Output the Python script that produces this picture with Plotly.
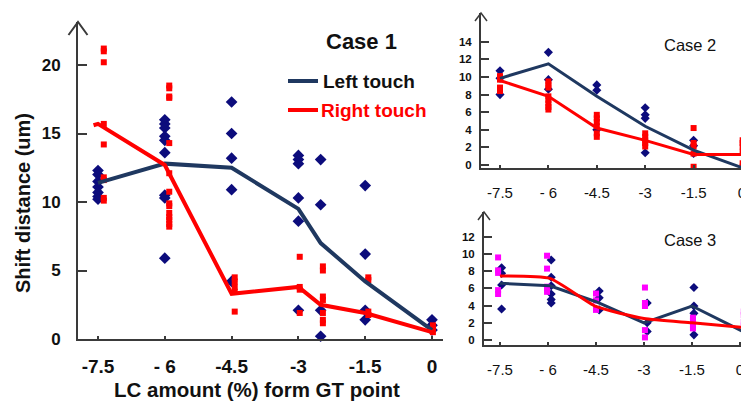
import plotly.graph_objects as go

# ---------------- data ----------------
X_TICKS = [-7.5, -6, -4.5, -3, -1.5, 0]
X_TICKTEXT = ["-7.5", "- 6", "-4.5", "-3", "-1.5", "0"]

# Case 1 – scattered measurements (x group, values)
c1_left_x = [-7.5, -6, -4.5, -3, -2.5, -1.5, 0]
c1_left_vals = [
    [12.3, 12.0, 11.5, 11.1, 10.7, 10.4, 10.2],
    [16.0, 15.7, 15.4, 14.8, 14.5, 13.6, 10.5, 10.3, 5.9],
    [17.3, 15.0, 13.2, 10.9, 4.2],
    [13.4, 13.1, 12.8, 10.3, 8.6, 2.1],
    [13.1, 9.8, 2.1, 0.2],
    [11.2, 6.2, 2.1, 1.4],
    [1.4, 1.0, 0.65],
]
c1_right_x = [-7.37, -5.9, -4.43, -2.97, -2.45, -1.43, 0.02]
c1_right_vals = [
    [21.2, 21.0, 20.2, 15.7, 14.2, 11.8, 11.6, 10.3, 10.1],
    [18.5, 18.3, 17.7, 17.6, 14.3, 12.1, 10.75, 9.9, 9.7, 9.2, 8.9, 8.7, 8.4, 8.2],
    [4.5, 4.2, 3.8, 3.45, 2.0],
    [6.0, 3.8, 3.6, 1.9],
    [5.3, 5.0, 3.1, 2.85, 1.9, 1.4, 1.15],
    [4.5, 4.3, 2.0, 1.75],
    [1.0, 0.8, 0.5],
]
c1_left_line_x = [-7.5, -6, -4.5, -3, -2.5, -1.5, 0]
c1_left_line_y = [11.4, 12.8, 12.5, 9.5, 7.0, 4.2, 0.65]
c1_right_line_x = [-7.6, -7.5, -6, -4.5, -3, -2.5, -1.5, 0]
c1_right_line_y = [15.6, 15.7, 12.7, 3.3, 3.8, 2.5, 1.9, 0.5]

# Case 2
c2_left_x = [-7.5, -6, -4.5, -3, -1.5, 0]
c2_left_vals = [
    [10.7, 9.85, 8.0],
    [12.8, 9.7, 8.6],
    [9.1, 8.5, 4.0],
    [6.5, 5.7, 5.3, 1.4],
    [2.8, 2.2, 1.3],
    [-0.8],
]
c2_right_x = [-7.5, -6, -4.5, -3, -1.5, 0.02]
c2_right_vals = [
    [10.1, 9.7, 8.8, 8.4],
    [9.5, 9.1, 8.8, 7.8, 7.4, 7.0, 6.6, 6.3],
    [5.7, 5.3, 4.9, 4.4, 3.6, 3.2],
    [3.6, 3.2, 2.8, 2.5, 2.1],
    [4.2, 2.5, 2.1, 1.3, -0.2, -0.95],
    [2.8, 2.5, 2.1, 1.5, 0.2, -0.2],
]
c2_left_line_y = [9.85, 11.5, 7.8, 4.4, 1.7, -0.3]
c2_right_line_y = [9.6, 7.8, 4.2, 2.8, 1.2, 1.2]

# Case 3
c3_left_x = [-7.45, -5.9, -4.4, -2.9, -1.44, 0.25]
c3_left_vals = [
    [8.4, 7.75, 6.4, 3.6],
    [9.3, 7.3, 6.3, 5.35, 4.7, 4.3],
    [5.7, 4.9, 3.5],
    [4.3, 2.0, 1.0],
    [6.1, 3.95, 3.1, 0.6],
    [2.7, 1.9, -0.6],
]
c3_right_x = [-7.56, -6.03, -4.5, -2.97, -1.47, 0.12]
c3_right_vals = [
    [9.6, 8.1, 7.8, 5.8, 5.35],
    [9.8, 8.3, 6.2, 6.0, 5.6],
    [5.4, 4.6, 3.5],
    [6.1, 4.3, 3.95, 1.15, 0.3, -1.0],
    [2.6, 2.3, 1.7, 1.35],
    [3.3, 2.9, 2.1, 1.7, -0.6],
]
c3_line_x = [-7.5, -5.94, -4.5, -3, -1.5, 0.25]
c3_left_line_y = [6.6, 6.3, 4.45, 2.0, 3.95, 0.7]
c3_right_line_y = [7.45, 7.17, 3.9, 2.5, 2.0, 1.4]

# ---------------- styling ----------------
PAGE_MARGIN = 8          # default browser body margin
W, H = 749 - PAGE_MARGIN, 401 - PAGE_MARGIN
NAVY_M = "#0c0c7c"
NAVY_L = "#1f3860"
RED = "#ff0000"
MAG = "#ff00ff"
FONT = "Liberation Sans"
AXC = "#3a3a3a"


def px(x):
    return (x - PAGE_MARGIN) / W


def py(y):
    return 1 - (y - PAGE_MARGIN) / H


def flat(xs, vals):
    ox, oy = [], []
    for x, vs in zip(xs, vals):
        for v in vs:
            ox.append(x)
            oy.append(v)
    return ox, oy


fig = go.Figure()


def add_pts(xs, vals, sym, size, color, ax):
    ox, oy = flat(xs, vals)
    fig.add_trace(go.Scatter(x=ox, y=oy, mode="markers", xaxis=ax[0], yaxis=ax[1],
                             marker=dict(symbol=sym, size=size, color=color, line=dict(width=0)),
                             cliponaxis=False, showlegend=False, hoverinfo="skip"))


def add_line(xs, ys, color, width, ax, shape="linear", smoothing=1.0):
    fig.add_trace(go.Scatter(x=xs, y=ys, mode="lines", xaxis=ax[0], yaxis=ax[1],
                             line=dict(color=color, width=width, shape=shape, smoothing=smoothing),
                             cliponaxis=False, showlegend=False, hoverinfo="skip"))


A1, A2, A3 = ("x", "y"), ("x2", "y2"), ("x3", "y3")

# Case 1
add_pts(c1_left_x, c1_left_vals, "diamond", 9, NAVY_M, A1)
add_pts(c1_right_x, c1_right_vals, "square", 6, RED, A1)
add_line(c1_left_line_x, c1_left_line_y, NAVY_L, 4, A1)
add_line(c1_right_line_x, c1_right_line_y, RED, 4, A1)

# Case 2
add_pts(c2_left_x, c2_left_vals, "diamond", 7, NAVY_M, A2)
add_pts(c2_right_x, c2_right_vals, "square", 6, RED, A2)
add_line(X_TICKS, c2_left_line_y, NAVY_L, 3, A2)
add_line(X_TICKS, c2_right_line_y, RED, 3, A2)

# Case 3
add_pts(c3_left_x, c3_left_vals, "diamond", 7, NAVY_M, A3)
add_pts(c3_right_x, c3_right_vals, "square", 6, MAG, A3)
add_line(c3_line_x, c3_left_line_y, NAVY_L, 3, A3)
add_line(c3_line_x, c3_right_line_y, RED, 3, A3, shape="spline", smoothing=0.5)


def xaxis(dom_px, tick_px, zero_px, unit_px, size, weight, standoff):
    left = -7.5 - (tick_px - dom_px[0]) / unit_px
    right = (dom_px[1] - zero_px) / unit_px
    return dict(domain=[px(dom_px[0]), px(dom_px[1])], range=[left, right],
                tickvals=X_TICKS, ticktext=X_TICKTEXT, ticks="inside", ticklen=3,
                tickcolor=AXC, tickwidth=1.5, showline=True, linecolor=AXC, linewidth=2,
                showgrid=False, zeroline=False, fixedrange=True, automargin=False,
                ticklabeloverflow="allow",
                tickfont=dict(family=FONT, size=size, color="#111", weight=weight),
                ticklabelstandoff=standoff)


def yaxis(axis_y, top_y, zero_y, unit_px, tickvals, anchor_x, size, standoff, ticklen):
    bottom = (zero_y - axis_y) / unit_px
    top = (zero_y - top_y) / unit_px
    return dict(domain=[py(axis_y), py(top_y)], range=[bottom, top],
                tickvals=tickvals, ticks="inside", ticklen=ticklen, tickcolor=AXC,
                tickwidth=1.5, showline=True, linecolor=AXC, linewidth=2,
                showgrid=False, zeroline=False, fixedrange=True, anchor=anchor_x,
                automargin=False, ticklabeloverflow="allow",
                tickfont=dict(family=FONT, size=size, color="#111", weight="bold"),
                ticklabelstandoff=standoff)


layout = dict(
    width=W, height=H, margin=dict(l=0, r=0, t=0, b=0, pad=0, autoexpand=False),
    paper_bgcolor="white", plot_bgcolor="rgba(0,0,0,0)",
    xaxis=dict(**xaxis((78, 443), 98, 432, 44.53, 19, "bold", 9), anchor="y"),
    yaxis=yaxis(339, 22, 339, 13.7, [0, 5, 10, 15, 20], "x", 17, 12, 9),
    xaxis2=dict(**xaxis((481, 749), 500, 742, 32.27, 15, "normal", 10), anchor="y2"),
    yaxis2=yaxis(168, 13, 165, 8.8, [0, 2, 4, 6, 8, 10, 12, 14], "x2", 11.5, 5, 8),
    xaxis3=dict(**xaxis((484, 749), 500, 740, 32.0, 15, "normal", 10), anchor="y3"),
    yaxis3=yaxis(345, 212, 340, 8.6, [0, 2, 4, 6, 8, 10, 12], "x3", 11.5, 5, 8),
)
fig.update_layout(**layout)

# axis arrowheads
shapes = []
for (xa, ya, hw, hh, lw) in [(78, 22, 9.5, 13, 2), (481, 13, 6, 8, 1.5), (484, 212, 6, 8, 1.5)]:
    shapes.append(dict(type="path", xref="paper", yref="paper",
                       path=f"M {px(xa-hw)},{py(ya+hh)} L {px(xa)},{py(ya)} L {px(xa+hw)},{py(ya+hh)}",
                       line=dict(color=AXC, width=lw)))
# legend samples
shapes.append(dict(type="line", xref="paper", yref="paper", x0=px(288), x1=px(318),
                   y0=py(81), y1=py(81), line=dict(color=NAVY_L, width=4)))
shapes.append(dict(type="line", xref="paper", yref="paper", x0=px(288), x1=px(318),
                   y0=py(110), y1=py(110), line=dict(color=RED, width=4)))
fig.update_layout(shapes=shapes)

ann = [
    dict(text="Case 1", x=px(361), y=py(41), size=22, weight="bold", color="#111", xanchor="center"),
    dict(text="Left touch", x=px(321), y=py(81), size=19, weight="bold", color="#111", xanchor="left"),
    dict(text="Right touch", x=px(319), y=py(110), size=19, weight="bold", color=RED, xanchor="left"),
    dict(text="Case 2", x=px(690), y=py(45), size=16.5, weight="normal", color="#111", xanchor="center"),
    dict(text="Case 3", x=px(690), y=py(240), size=16.5, weight="normal", color="#111", xanchor="center"),
    dict(text="LC amount (%) form GT point", x=px(257), y=py(389), size=20.5, weight="bold", color="#111", xanchor="center"),
]
annotations = []
for a in ann:
    annotations.append(dict(text=a["text"], x=a["x"], y=a["y"], xref="paper", yref="paper",
                            xanchor=a["xanchor"], yanchor="middle", showarrow=False,
                            font=dict(family=FONT, size=a["size"], color=a["color"], weight=a["weight"])))
annotations.append(dict(text="Shift distance (um)", x=px(23), y=py(203), xref="paper", yref="paper",
                        xanchor="center", yanchor="middle", showarrow=False, textangle=-90,
                        font=dict(family=FONT, size=20, color="#111", weight="bold")))
fig.update_layout(annotations=annotations)

fig.write_html("out.html")
